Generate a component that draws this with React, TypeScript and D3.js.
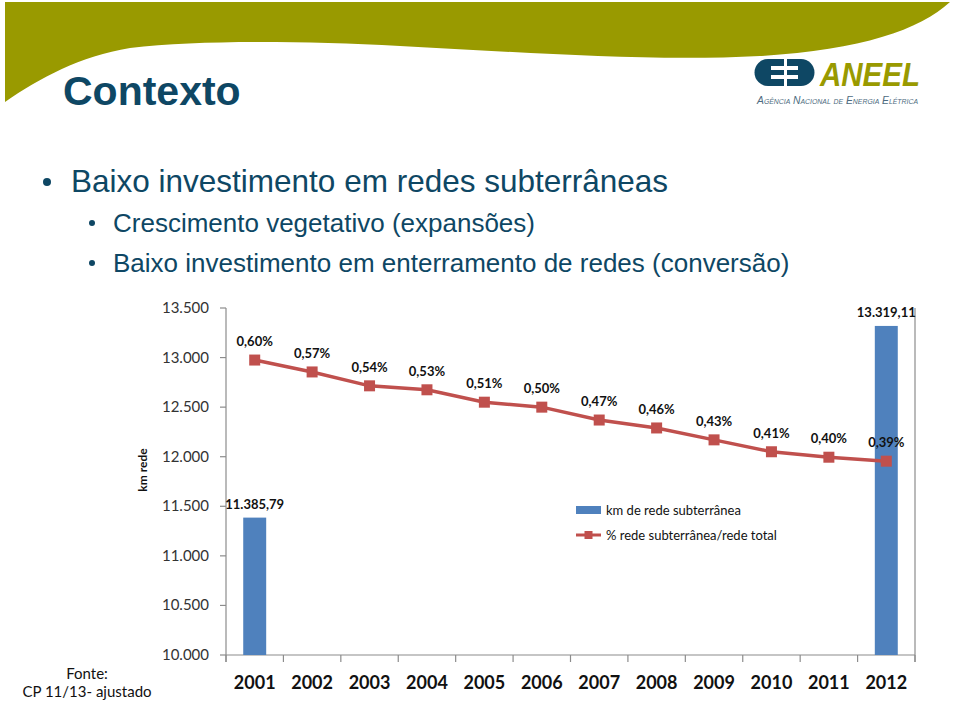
import { useEffect } from 'react';
import * as d3 from 'd3';

// dados
const years = ['2001', '2002', '2003', '2004', '2005', '2006', '2007', '2008', '2009', '2010', '2011', '2012'];
const kmRede: (number | null)[] = [11385.79, null, null, null, null, null, null, null, null, null, null, 13319.11];
const pctRede = [0.595, 0.571, 0.543, 0.535, 0.510, 0.500, 0.474, 0.458, 0.434, 0.410, 0.399, 0.391];
const pctLabels = ['0,60%', '0,57%', '0,54%', '0,53%', '0,51%', '0,50%', '0,47%', '0,46%', '0,43%', '0,41%', '0,40%', '0,39%'];
const kmTicks = [10000, 10500, 11000, 11500, 12000, 12500, 13000, 13500];

const bullets = ['Baixo investimento em redes subterrâneas'];
const subBullets = ['Crescimento vegetativo (expansões)', 'Baixo investimento em enterramento de redes (conversão)'];

const br = d3.formatLocale({ decimal: ',', thousands: '.', grouping: [3], currency: ['R$', ''] });
const fmtTick = br.format(',d');
const fmtBar = br.format(',.2f');

const chartFont = 'Lato, "Open Sans", sans-serif';
const slideFont = '"Liberation Sans", Arial, sans-serif';
const navy = '#0e4764';
const olive = '#999a00';
const barColor = '#4f81bd';
const lineColor = '#c0504d';
const axisColor = '#8c8c8c';

export default function App() {
    useEffect(() => {
        document.body.style.margin = '0';
    }, []);

    const left = 226, right = 915, top = 308, bottom = 655;

    const x = d3.scaleBand<string>().domain(years).range([left, right]).paddingInner(0.6).paddingOuter(0.3);
    const step = x.step();
    const yKm = d3.scaleLinear().domain([10000, 13500]).range([bottom, top]);
    const yPct = d3.scaleLinear().domain([0, 0.7]).range([bottom, top]);

    const cx = (d: string) => (x(d) ?? 0) + x.bandwidth() / 2;
    const line = d3.line<number>().x((_, i) => cx(years[i])).y((v) => yPct(v));
    const boundaries = d3.range(years.length + 1).map((i) => left + i * step);
    const mk = 11;

    return (
        <svg width={960} height={701} style={{ position: 'absolute', left: 0, top: 0, background: '#fff' }}>
            {/* faixa superior */}
            <path
                d="M5,2 L950,2 C920,30 860,50 760,56 C650,62 520,52 400,46 C300,41 200,40 130,48 C80,56 40,78 5,102 Z"
                fill={olive}
            />

            {/* logo */}
            <g fill={navy}>
                <path d="M784,59 H768 A13.5,13.5 0 0 0 768,86 H784 Z" />
                <path d="M787,59 H801 A13.5,13.5 0 0 1 801,86 H787 Z" />
            </g>
            <g fill="#fff">
                <rect x={771} y={66} width={14} height={4} />
                <rect x={771} y={75} width={14} height={4} />
                <rect x={786} y={66} width={12} height={4} />
                <rect x={786} y={75} width={12} height={4} />
            </g>
            <text x={820} y={86} fill={olive} fontFamily={slideFont} fontWeight="bold" fontStyle="italic"
                fontSize={34} textLength={100} lengthAdjust="spacingAndGlyphs">ANEEL</text>
            <text x={757} y={104} fill="#4d6b80" fontFamily={slideFont} fontStyle="italic" fontSize={10.5}
                textLength={161} lengthAdjust="spacingAndGlyphs" style={{ fontVariant: 'small-caps' }}>Agência Nacional de Energia Elétrica</text>

            {/* título e tópicos */}
            <text x={63} y={105} fill={navy} fontFamily={slideFont} fontWeight="bold" fontSize={41}>Contexto</text>
            {bullets.map((b, i) => (
                <g key={b}>
                    <circle cx={47} cy={182 + i * 40} r={4} fill={navy} />
                    <text x={71} y={192 + i * 40} fill={navy} fontFamily={slideFont} fontSize={31.5}>{b}</text>
                </g>
            ))}
            {subBullets.map((b, i) => (
                <g key={b}>
                    <circle cx={92} cy={223 + i * 40} r={3} fill={navy} />
                    <text x={113} y={232 + i * 40} fill={navy} fontFamily={slideFont} fontSize={26}>{b}</text>
                </g>
            ))}

            {/* eixos */}
            <g stroke={axisColor} strokeWidth={1.2} fill="none">
                <line x1={left} y1={top} x2={left} y2={bottom + 7} />
                <line x1={right} y1={top} x2={right} y2={bottom + 7} />
                <line x1={left} y1={bottom} x2={right} y2={bottom} />
                {kmTicks.map((t) => (
                    <line key={t} x1={left - 6} x2={left} y1={yKm(t)} y2={yKm(t)} />
                ))}
                {boundaries.map((b) => (
                    <line key={b} x1={b} x2={b} y1={bottom} y2={bottom + 7} />
                ))}
            </g>
            {kmTicks.map((t) => (
                <text key={t} x={209} y={yKm(t) + 5} textAnchor="end" fontFamily={chartFont} fontSize={15} fill="#333">
                    {fmtTick(t)}
                </text>
            ))}
            {years.map((yr) => (
                <text key={yr} x={cx(yr)} y={689} textAnchor="middle" fontFamily={chartFont} fontWeight="bold" fontSize={18} fill="#111">
                    {yr}
                </text>
            ))}
            <text transform="translate(147,470) rotate(-90)" textAnchor="middle" fontFamily={chartFont} fontWeight="bold" fontSize={12} fill="#111">
                km rede
            </text>

            {/* barras */}
            {kmRede.map((v, i) =>
                v == null ? null : (
                    <g key={years[i]}>
                        <rect x={x(years[i])} y={yKm(v)} width={x.bandwidth()} height={bottom - yKm(v)} fill={barColor} />
                        <text x={cx(years[i])} y={yKm(v) - 9} textAnchor="middle" fontFamily={chartFont} fontWeight="bold" fontSize={13} fill="#111">
                            {fmtBar(v)}
                        </text>
                    </g>
                )
            )}

            {/* linha */}
            <path d={line(pctRede) ?? ''} fill="none" stroke={lineColor} strokeWidth={3.5} />
            {pctRede.map((v, i) => (
                <g key={years[i]}>
                    <rect x={cx(years[i]) - mk / 2} y={yPct(v) - mk / 2} width={mk} height={mk} fill={lineColor} />
                    <text x={cx(years[i])} y={yPct(v) - 14} textAnchor="middle" fontFamily={chartFont} fontWeight="bold" fontSize={13} fill="#111">
                        {pctLabels[i]}
                    </text>
                </g>
            ))}

            {/* legenda */}
            <rect x={576} y={506} width={25} height={8} fill={barColor} />
            <text x={606} y={515} fontFamily={chartFont} fontSize={13} fill="#111">km de rede subterrânea</text>
            <line x1={576} x2={601} y1={535} y2={535} stroke={lineColor} strokeWidth={3} />
            <rect x={584.5} y={531} width={8} height={8} fill={lineColor} />
            <text x={606} y={540} fontFamily={chartFont} fontSize={13} fill="#111">% rede subterrânea/rede total</text>

            {/* fonte */}
            <text x={87} y={679} textAnchor="middle" fontFamily={chartFont} fontSize={15} fill="#111">Fonte:</text>
            <text x={87} y={697} textAnchor="middle" fontFamily={chartFont} fontSize={15} fill="#111">CP 11/13- ajustado</text>
        </svg>
    );
}
